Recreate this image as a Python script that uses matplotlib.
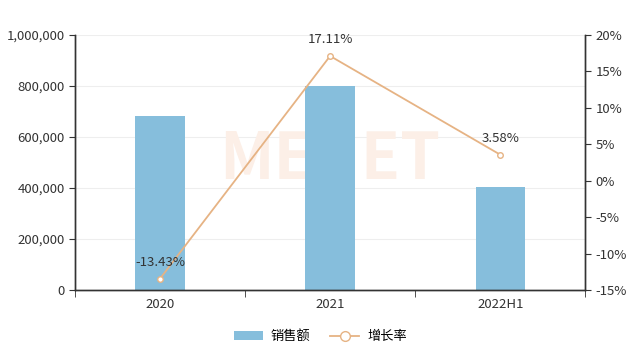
import matplotlib.pyplot as plt
import numpy as np
from matplotlib.ticker import FuncFormatter, MultipleLocator
from matplotlib.lines import Line2D
from matplotlib.patches import Patch

plt.rcParams['font.family'] = ['Noto Sans CJK SC', 'DejaVu Sans']

categories = ['2020', '2021', '2022H1']
sales = [682000, 800000, 404000]
growth = [-13.43, 17.11, 3.58]
growth_labels = ['-13.43%', '17.11%', '3.58%']

bar_color = '#86bedc'
line_color = '#e6b384'
axis_color = '#333333'

fig = plt.figure(figsize=(6.41, 3.64), dpi=100)
ax = fig.add_axes([0.117, 0.203, 0.796, 0.701])
ax2 = ax.twinx()

x = np.arange(len(categories))
ax.bar(x, sales, width=0.29, color=bar_color, zorder=2)
ax.set_xlim(-0.5, 2.5)
ax.set_ylim(0, 1000000)
ax.yaxis.set_major_locator(MultipleLocator(200000))
ax.yaxis.set_major_formatter(FuncFormatter(lambda v, p: f'{int(v):,}'))
ax.grid(axis='y', color='#eeeeee', linewidth=0.8, zorder=0)
ax.set_axisbelow(True)

# watermark
ax.text(0.5, 0.51, 'MENET', transform=ax.transAxes, fontsize=46, fontweight='bold',
        color='#fcefe7', ha='center', va='center', zorder=1)

ax.set_xticks(x)
ax.set_xticklabels(categories)
ax.set_xticks([-0.5, 0.5, 1.5, 2.5], minor=True)
ax.tick_params(axis='x', which='major', length=0, pad=6)
ax.tick_params(axis='x', which='minor', length=5, color=axis_color)

ax2.plot(x, growth, color=line_color, linewidth=1.3, marker='o', markersize=4,
         markerfacecolor='white', markeredgecolor=line_color, zorder=3)
ax2.set_ylim(-15, 20)
ax2.yaxis.set_major_locator(MultipleLocator(5))
ax2.yaxis.set_major_formatter(FuncFormatter(lambda v, p: f'{int(v)}%'))
for xi, g, lab in zip(x, growth, growth_labels):
    ax2.annotate(lab, (xi, g), xytext=(0, 7), textcoords='offset points',
                 ha='center', va='bottom', fontsize=9.5, color=axis_color)

for a in (ax, ax2):
    a.spines['top'].set_visible(False)
    for s in ('left', 'right', 'bottom'):
        a.spines[s].set_color(axis_color)
        a.spines[s].set_linewidth(1.0)
    a.tick_params(axis='y', length=4, color=axis_color, labelcolor=axis_color, labelsize=9.5)
    a.tick_params(axis='x', labelcolor=axis_color, labelsize=9.5)

handles = [Patch(facecolor=bar_color, edgecolor='none'),
           Line2D([0], [0], color=line_color, marker='o', markersize=7,
                  markerfacecolor='white', markeredgecolor=line_color, linewidth=1.3)]
fig.legend(handles, ['销售额', '增长率'], loc='center', bbox_to_anchor=(0.5, 0.075),
           ncol=2, frameon=False, fontsize=9.5, handlelength=2.2, columnspacing=1.5,
           handletextpad=0.6)

plt.savefig('out.png', dpi=100)
